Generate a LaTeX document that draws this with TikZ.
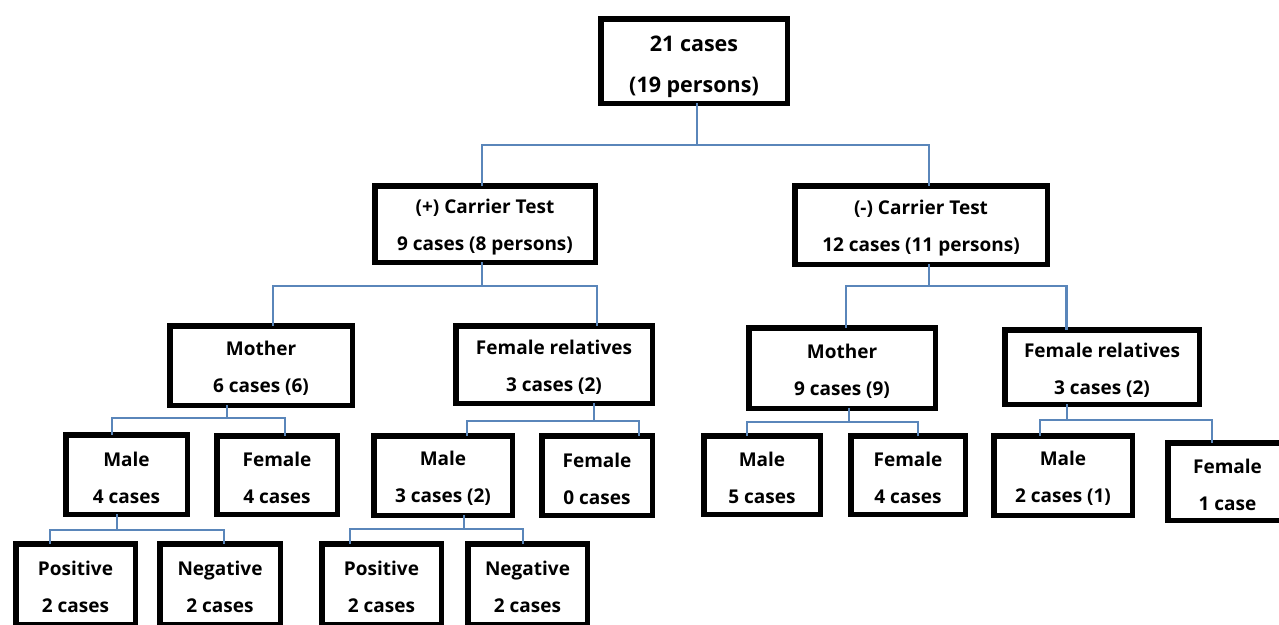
\documentclass[tikz,border=0pt]{standalone}
\usepackage{fontspec}
\setmainfont{Open Sans}
\definecolor{connblue}{HTML}{5A86BA}
\tikzset{
  box/.style={draw=black, line width=5.5pt, fill=white, inner sep=0pt, outer sep=0pt},
  txt/.style={inner sep=0pt, align=center, font=\bfseries\fontsize{19}{37}\selectfont},
  roottxt/.style={txt, yshift=-2.5pt, font=\bfseries\fontsize{21.5}{41}\selectfont},
  conn/.style={draw=connblue, line width=2.2pt},
}
% \bx[text style]{name}{x}{y}{outer w}{outer h}{text}
\newcommand{\bx}[7][txt]{%
  \node[box, minimum width=#5pt-5.5pt, minimum height=#6pt-5.5pt] (#2) at (#3,#4) {};
  \node[#1, yshift=-3pt] (#2-t) at (#2.center) {#7};}
% \linkto{parent}{parent xshift}{drop}{child}{child xshift}
\newcommand{\linkto}[5]{\draw[conn] ([xshift=#2pt]#1.south) -- ++(0,#3) -| ([xshift=#5pt]#4.north);}
\begin{document}
\begin{tikzpicture}[x=1pt, y=-1pt]
\useasboundingbox[fill=white] (0,0) rectangle (1279,624);
\bx[roottxt]{root}{694}{61}{192}{90}{21 cases\\(19 persons)}
\bx{plus}{485}{224}{226}{82}{(+) Carrier Test\\9 cases (8 persons)}
\bx{minus}{921}{225}{258}{84}{(-) Carrier Test\\12 cases (11 persons)}
\bx{pMother}{261}{365.5}{188}{85}{Mother\\6 cases (6)}
\bx{pFR}{554}{364.5}{202}{83}{Female relatives\\3 cases (2)}
\bx{mMother}{842}{368}{192}{86}{Mother\\9 cases (9)}
\bx{mFR}{1102}{367}{200}{80}{Female relatives\\3 cases (2)}
\bx{pMMale}{126.5}{474.5}{127}{85}{Male\\4 cases}
\bx{pMFemale}{277}{475}{126}{84}{Female\\4 cases}
\bx{pFMale}{443}{475.5}{144}{85}{Male\\3 cases (2)}
\bx{pFFemale}{597}{475.5}{116}{85}{Female\\0 cases}
\bx{mMMale}{762}{475}{122}{84}{Male\\5 cases}
\bx{mMFemale}{908}{475}{120}{84}{Female\\4 cases}
\bx{mFMale}{1063}{475.5}{144}{85}{Male\\2 cases (1)}
\bx{mFFemale}{1227.5}{481.5}{125}{83}{Female\\1 case}
\bx{pos1}{75.5}{584}{125}{86}{Positive\\2 cases}
\bx{neg1}{220}{584}{126}{86}{Negative\\2 cases}
\bx{pos2}{381.5}{584}{125}{86}{Positive\\2 cases}
\bx{neg2}{527.5}{584}{125}{86}{Negative\\2 cases}
% connectors
\linkto{root}{3}{42}{plus}{-3}
\linkto{root}{3}{42}{minus}{8}
\linkto{plus}{-3}{24}{pMother}{12}
\linkto{plus}{-3}{24}{pFR}{43}
\linkto{minus}{8}{22}{mMother}{4}
\linkto{minus}{8}{22}{mFR}{-35.5}
\linkto{pMother}{-34}{13}{pMMale}{-14.5}
\linkto{pMother}{-34}{13}{pMFemale}{8}
\linkto{pFR}{40}{18}{pFMale}{24}
\linkto{pFR}{40}{18}{pFFemale}{42}
\linkto{mMother}{7}{14}{mMMale}{-15}
\linkto{mMother}{7}{14}{mMFemale}{10}
\linkto{mFR}{-35}{16}{mFMale}{-23}
\linkto{mFR}{-35}{16}{mFFemale}{-15.5}
\linkto{pMMale}{-9.5}{16}{pos1}{-25.5}
\linkto{pMMale}{-9.5}{16}{neg1}{4}
\linkto{pFMale}{21}{14}{pos2}{-31.5}
\linkto{pFMale}{21}{14}{neg2}{-4.5}
\end{tikzpicture}
\end{document}
